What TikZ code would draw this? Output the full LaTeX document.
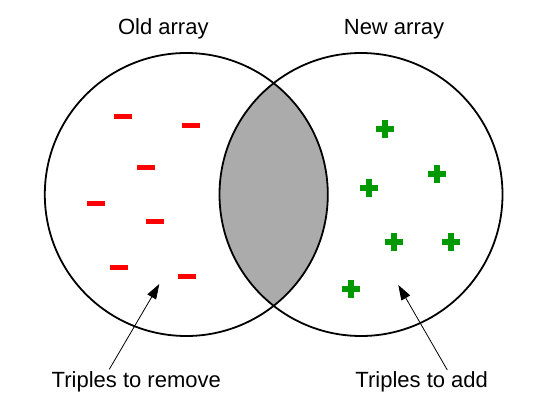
\documentclass[tikz,border=0pt]{standalone}
\usepackage{fontspec}
\setmainfont{Liberation Sans}
\usetikzlibrary{arrows.meta}
\definecolor{lensgray}{RGB}{171,171,171}
\definecolor{minusred}{RGB}{255,0,0}
\definecolor{plusgreen}{RGB}{0,153,0}
\begin{document}
\begin{tikzpicture}[x=1pt,y=-1pt,
  setline/.style={line width=1.8pt, draw=black},
  lbl/.style={anchor=base, inner sep=0pt, font=\fontsize{22}{26}\selectfont},
  minussign/.style={fill=minusred, draw=none, minimum width=18pt, minimum height=5pt, inner sep=0pt, rectangle},
  pointer/.style={line width=0.8pt, -{Triangle[length=15pt,width=10pt]}}
]
\useasboundingbox (0,0) rectangle (548,409);
\fill[white] (0,0) rectangle (548,409);
% lens
\begin{scope}
  \clip (186.3,194.5) circle (141.5);
  \fill[lensgray] (361,194.5) circle (141.5);
\end{scope}
\draw[setline] (186.3,194.5) circle (141.5);
\draw[setline] (361,194.5) circle (141.5);
% minus signs
\foreach \n/\px/\py in {m1/123.2/116.7, m2/191.3/125.8, m3/146/167, m4/95.7/203.3, m5/155/221.7, m6/118.7/267.3, m7/187/276.3}
  \node[minussign] (\n) at (\px,\py) {};
% plus signs
\foreach \n/\px/\py in {p1/384.8/129.2, p2/436.8/173.5, p3/368.5/188.2, p4/393.5/241.8, p5/451.2/241.8, p6/350.5/288.5}{
  \coordinate (\n) at (\px,\py);
  \fill[plusgreen] ([xshift=-9pt,yshift=-3pt]\n) rectangle ([xshift=9pt,yshift=3pt]\n);
  \fill[plusgreen] ([xshift=-3pt,yshift=-9pt]\n) rectangle ([xshift=3pt,yshift=9pt]\n);
}
% labels
\node[lbl] (old) at (163.3,35) {Old array};
\node[lbl] (new) at (394,35) {New array};
\node[lbl] (rem) at (136.3,387.3) {Triples to remove};
\node[lbl] (add) at (421.7,387.3) {Triples to add};
% arrows
\coordinate (remtail) at (109.3,369.3);
\coordinate (remtip) at (159.3,284);
\coordinate (addtail) at (447.3,370);
\coordinate (addtip) at (398.3,285);
\draw[pointer] (remtail) -- (remtip);
\draw[pointer] (addtail) -- (addtip);
\end{tikzpicture}
\end{document}
